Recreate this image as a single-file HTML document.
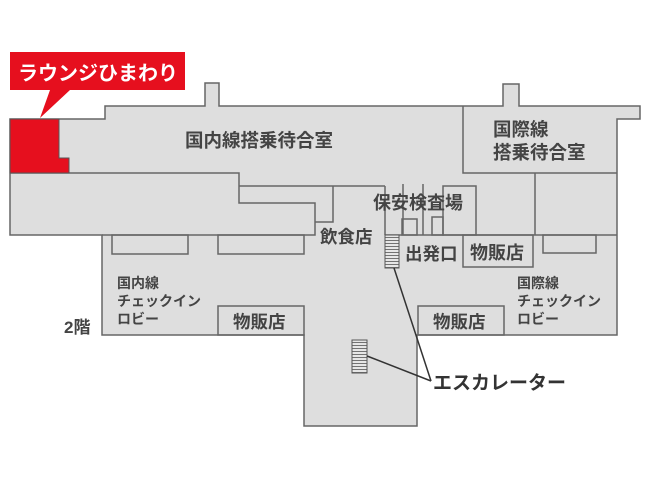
<!DOCTYPE html>
<html><head><meta charset="utf-8"><style>
html,body{margin:0;padding:0;background:#fff;}
svg{display:block;}
text{font-family:"Liberation Sans","Noto Sans CJK JP",sans-serif;fill:#444;font-weight:bold;}
</style></head><body>
<svg width="654" height="479" viewBox="0 0 654 479" xmlns="http://www.w3.org/2000/svg">
<defs>
<pattern id="esc" width="4" height="3" patternUnits="userSpaceOnUse">
<rect width="4" height="3" fill="#e6e6e6"/><line x1="0" y1="0.5" x2="4" y2="0.5" stroke="#555" stroke-width="0.8"/>
</pattern>
</defs>
<polygon points="10,119 105,119 105,106 205,106 205,83 219,83 219,106 503,106 503,84 519,84 519,106 640,106 640,119 617,119 617,335 417,335 417,426 304,426 304,335 102,335 102,235 10,235" fill="#dedede" stroke="#666" stroke-width="1.5"/>
<g fill="none" stroke="#666" stroke-width="1.5">
<polyline points="10,173 239,173 239,203 315,203 315,235 102,235"/>
<polyline points="239,186 385,186"/>
<polyline points="333,186 333,222 315,222"/>
<rect x="112" y="235" width="76" height="19"/>
<rect x="218" y="235" width="86" height="19"/>
<line x1="385" y1="186" x2="385" y2="235"/>
<line x1="403" y1="184" x2="403" y2="235"/>
<line x1="423" y1="184" x2="423" y2="235"/>
<rect x="402" y="219" width="15" height="16"/>
<rect x="432" y="217" width="11" height="18"/>
<rect x="443" y="186" width="33" height="49"/>
<polyline points="463,106 463,173 617,173"/>
<line x1="535" y1="173" x2="535" y2="235"/>
<line x1="385" y1="235" x2="617" y2="235"/>
<rect x="463" y="235" width="70" height="32"/>
<rect x="543" y="235" width="53" height="18"/>
<rect x="218" y="306" width="86" height="29"/>
<rect x="418" y="306" width="86" height="29"/>
</g>
<polygon points="10,119 59,119 59,158 69,158 69,173 10,173" fill="#e60f1e" stroke="#555" stroke-width="1"/>
<polygon points="10,52 185,52 185,90 70,90 40,118 50,90 10,90" fill="#e60f1e"/>
<text x="18" y="80" font-size="20" style="fill:#fff">ラウンジひまわり</text>
<rect x="385" y="235" width="14" height="33" fill="url(#esc)" stroke="#555" stroke-width="1"/>
<rect x="352" y="340" width="15" height="33" fill="url(#esc)" stroke="#555" stroke-width="1"/>
<g stroke="#333" stroke-width="1.5" fill="none">
<line x1="394" y1="268" x2="431" y2="381"/>
<line x1="367" y1="356" x2="431" y2="381"/>
</g>
<text x="185" y="147" font-size="18.5">国内線搭乗待合室</text>
<text x="493" y="136" font-size="18.5">国際線</text>
<text x="493" y="159" font-size="18.5">搭乗待合室</text>
<text x="373" y="209" font-size="18">保安検査場</text>
<text x="320" y="243" font-size="17.5">飲食店</text>
<text x="405" y="260" font-size="17.5">出発口</text>
<text x="470" y="259" font-size="18">物販店</text>
<text x="233" y="328" font-size="17.5">物販店</text>
<text x="433" y="328" font-size="17.5">物販店</text>
<text x="117" y="288" font-size="14">国内線</text>
<text x="117" y="306" font-size="14">チェックイン</text>
<text x="117" y="324" font-size="14">ロビー</text>
<text x="517" y="288" font-size="14">国際線</text>
<text x="517" y="306" font-size="14">チェックイン</text>
<text x="517" y="324" font-size="14">ロビー</text>
<text x="64" y="333" font-size="17">2階</text>
<text x="433" y="389" font-size="19" style="fill:#333">エスカレーター</text>
</svg>
</body></html>
